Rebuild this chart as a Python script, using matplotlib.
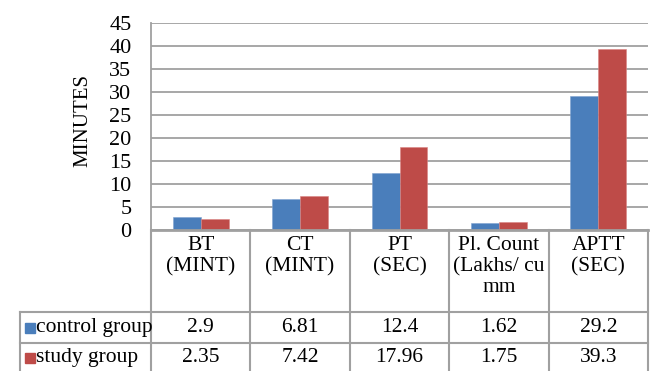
import numpy as np
import matplotlib
matplotlib.use("Agg")
import matplotlib.pyplot as plt

# data
categories = ["BT\n(MINT)", "CT\n(MINT)", "PT\n(SEC)", "Pl. Count\n(Lakhs/ cu\nmm", "APTT\n(SEC)"]
series_names = ["control group", "study group"]
control = [2.9, 6.81, 12.4, 1.62, 29.2]
study = [2.35, 7.42, 17.96, 1.75, 39.3]
control_labels = ["2.9", "6.81", "12.4", "1.62", "29.2"]
study_labels = ["2.35", "7.42", "17.96", "1.75", "39.3"]
yticks = [0, 5, 10, 15, 20, 25, 30, 35, 40, 45]

colors = ["#4A7EBB", "#BE4B48"]
grid_c = "#A0A0A0"
plt.rcParams["font.family"] = ["Liberation Serif", "DejaVu Serif"]
fs = 15.5

W, H = 656, 371
fig = plt.figure(figsize=(W / 100, H / 100), dpi=100)

# plot area in pixels
px_l, px_r, px_t, px_b = 151, 648, 23, 230
ax = fig.add_axes([px_l / W, 1 - px_b / H, (px_r - px_l) / W, (px_b - px_t) / H])

x = np.arange(len(categories))
bw = 0.28
ax.bar(x - bw / 2, control, bw, color=colors[0], edgecolor="#7FA3D0", linewidth=0.4, zorder=3)
ax.bar(x + bw / 2, study, bw, color=colors[1], edgecolor="#D98583", linewidth=0.4, zorder=3)

ax.set_xlim(-0.5, len(categories) - 0.5)
ax.set_ylim(0, 45)
ax.set_yticks(yticks)
ax.set_xticks([])
ax.yaxis.grid(True, color=grid_c, linewidth=1.3, zorder=0)
ax.tick_params(axis="y", length=0, pad=14, labelsize=16)
for s in ["top", "right", "bottom"]:
    ax.spines[s].set_visible(False)
ax.spines["left"].set_color(grid_c)
ax.spines["left"].set_linewidth(1.3)
ax.set_ylabel("MINUTES", fontsize=15)
ax.yaxis.set_label_coords(-0.118, 0.53)

# data table drawn below the plot area, in pixel coordinates
tab = fig.add_axes([0, 0, 1, 1], facecolor="none")
tab.set_xlim(0, W)
tab.set_ylim(H, 0)
tab.axis("off")

n = len(categories)
col_w = (px_r - px_l) / n
edges = [px_l + col_w * k for k in range(n + 1)]
leg_l = 20
row1, row2, row_end = 312, 343, 376
lc = "#A0A0A0"
lw = 1.5

tab.plot([px_l, px_r], [px_b, px_b], color=lc, lw=2.0)
for e in edges:
    tab.plot([e, e], [px_b, row_end], color=lc, lw=lw)
tab.plot([leg_l, leg_l], [row1, row_end], color=lc, lw=lw)
for y in [row1, row2]:
    tab.plot([leg_l, px_r], [y, y], color=lc, lw=lw)

for i, cat in enumerate(categories):
    cx = (edges[i] + edges[i + 1]) / 2
    tab.text(cx, px_b + 6, cat, ha="center", va="top", fontsize=fs, linespacing=1.15)
    tab.text(cx, (row1 + row2) / 2, control_labels[i], ha="center", va="center", fontsize=fs)
    tab.text(cx, (row2 + row_end) / 2 - 2, study_labels[i], ha="center", va="center", fontsize=fs)

for j, (name, c, (ya, yb)) in enumerate(zip(series_names, colors, [(row1, row2), (row2, row_end)])):
    yc = (ya + yb) / 2 - (2 if j else 0)
    tab.add_patch(plt.Rectangle((25, yc - 5), 10, 10, color=c))
    tab.text(36, yc, name, ha="left", va="center", fontsize=fs)

fig.savefig("out.png", dpi=100)
